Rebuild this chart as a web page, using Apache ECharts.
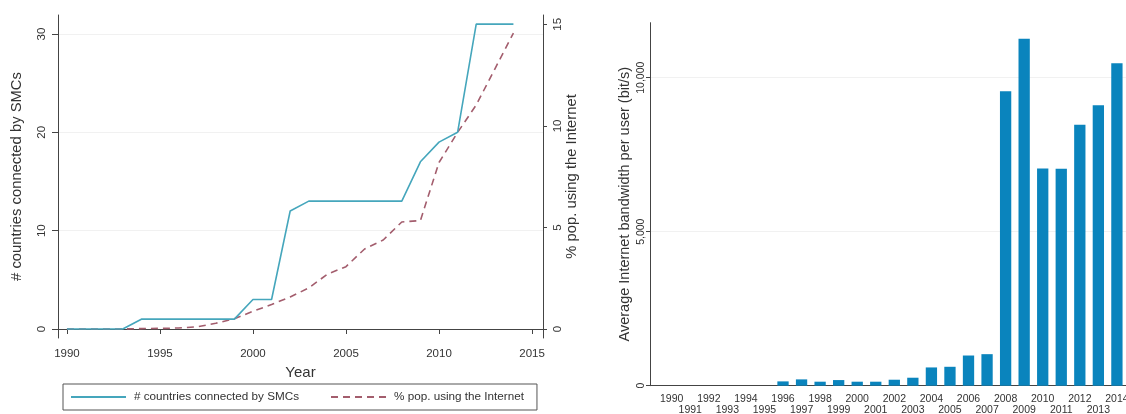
<!DOCTYPE html>
<html>
<head>
<meta charset="utf-8">
<script src="https://cdn.jsdelivr.net/npm/echarts@6/dist/echarts.min.js"></script>
<style>
  html, body { margin: 0; padding: 0; background: #ffffff; }
  #chart { width: 1126px; height: 414px; }
</style>
</head>
<body>
<div id="chart"></div>
<script>
// ---- Data ----
const years = [1990, 1991, 1992, 1993, 1994, 1995, 1996, 1997, 1998, 1999, 2000, 2001, 2002,
               2003, 2004, 2005, 2006, 2007, 2008, 2009, 2010, 2011, 2012, 2013, 2014];
const smcCountries = [0, 0, 0, 0, 1, 1, 1, 1, 1, 1, 3, 3, 12, 13, 13, 13, 13, 13, 13, 17, 19, 20, 31, 31, 31];
const popInternet = [0, 0, 0, 0, 0.02, 0.03, 0.05, 0.11, 0.28, 0.5, 0.87, 1.21, 1.58, 2.02, 2.7,
                     3.07, 3.94, 4.38, 5.27, 5.34, 8.2, 9.68, 11.03, 12.8, 14.57];
const bandwidth = [0, 0, 0, 0, 0, 0, 140, 205, 130, 183, 130, 130, 194, 259, 593, 614, 980, 1024,
                   9560, 11262, 7050, 7040, 8469, 9107, 10466];
const leftXTicks = [1990, 1995, 2000, 2005, 2010, 2015];
const leftYTicks = [0, 10, 20, 30];
const rightYTicks = [0, 5, 10, 15];
const bwYTicks = [0, 5000, 10000];
const bwLabelsRow1 = years.filter(y => y % 2 === 0);
const bwLabelsRow2 = years.filter(y => y % 2 === 1);

const seriesNames = ['# countries connected by SMCs', '% pop. using the Internet'];
const titles = {
  year: 'Year',
  smc: '# countries connected by SMCs',
  pop: '% pop. using the Internet',
  bw: 'Average Internet bandwidth per user (bit/s)'
};

// ---- Styling ----
const FONT = '"Liberation Sans", Arial, sans-serif';
const TXT = '#333333';
const AX = '#444444';
const GRIDC = '#f1f1f1';
const BLUE = '#45a6bc';
const RED = '#a35d6d';
const BAR = '#0a84bd';

const pair = (xs, ys) => xs.map((x, i) => [x, ys[i]]);

const chart = echarts.init(document.getElementById('chart'), null, { renderer: 'canvas' });

const axisLineStyle = { show: true, lineStyle: { color: AX, width: 1 } };
const BW_X_MIN = 1988.83, BW_X_MAX = 2014.49;

chart.setOption({
  animation: false,
  backgroundColor: '#ffffff',
  textStyle: { fontFamily: FONT, color: TXT },
  grid: [
    { left: 58, right: 583, top: 15, bottom: 76, containLabel: false, outerBoundsMode: 'none' },
    { left: 650, right: 0, top: 22.7, bottom: 28.3, containLabel: false, outerBoundsMode: 'none' }
  ],
  legend: {
    data: seriesNames,
    left: 63, top: 384,
    orient: 'horizontal',
    itemWidth: 55, itemHeight: 14, itemGap: 31,
    padding: [7, 13, 7, 7],
    borderColor: '#555555', borderWidth: 1,
    itemStyle: { opacity: 0 },
    textStyle: { fontFamily: FONT, fontSize: 11.7, color: TXT, padding: [0, 0, 0, 3] }
  },
  xAxis: [
    {
      type: 'value', gridIndex: 0, min: 1989.52, max: 2015.59,
      name: titles.year, nameLocation: 'middle', nameGap: 21,
      nameTextStyle: { fontFamily: FONT, fontSize: 15, color: TXT },
      axisLine: axisLineStyle,
      axisTick: { show: true, length: 5, lineStyle: { color: AX }, customValues: leftXTicks },
      axisLabel: { customValues: leftXTicks, fontSize: 11.5, color: TXT, margin: 10, formatter: v => String(v) },
      splitLine: { show: false }
    },
    {
      type: 'value', gridIndex: 1, min: BW_X_MIN, max: BW_X_MAX,
      axisLine: axisLineStyle,
      axisTick: { show: false },
      axisLabel: {
        customValues: bwLabelsRow1, fontSize: 10.5, color: TXT, margin: 8,
        showMinLabel: true, showMaxLabel: true, hideOverlap: false,
        formatter: v => String(v)
      },
      splitLine: { show: false }
    },
    {
      type: 'value', gridIndex: 1, min: BW_X_MIN, max: BW_X_MAX, position: 'bottom',
      axisLine: { show: false },
      axisTick: { show: false },
      axisLabel: {
        customValues: bwLabelsRow2, fontSize: 10.5, color: TXT, margin: 19,
        showMinLabel: true, showMaxLabel: true, hideOverlap: false,
        formatter: v => String(v)
      },
      splitLine: { show: false }
    }
  ],
  yAxis: [
    {
      type: 'value', gridIndex: 0, position: 'left', min: -0.915, max: 31.93, interval: 10,
      name: titles.smc, nameLocation: 'middle', nameGap: 33.5, nameRotate: 90,
      nameTextStyle: { fontFamily: FONT, fontSize: 14.8, color: TXT },
      axisLine: axisLineStyle,
      axisTick: { show: true, length: 6, lineStyle: { color: AX }, customValues: leftYTicks },
      axisLabel: { customValues: leftYTicks, rotate: 90, fontSize: 11.5, color: TXT, margin: 10 },
      splitLine: { show: true, lineStyle: { color: GRIDC, width: 1 } }
    },
    {
      type: 'value', gridIndex: 0, position: 'right', min: -0.443, max: 15.46, interval: 5,
      name: titles.pop, nameLocation: 'middle', nameGap: 19, nameRotate: 90,
      nameTextStyle: { fontFamily: FONT, fontSize: 14.8, color: TXT },
      axisLine: axisLineStyle,
      axisTick: { show: true, length: 4, lineStyle: { color: AX }, customValues: rightYTicks },
      axisLabel: { customValues: rightYTicks, rotate: 90, fontSize: 11.5, color: TXT, margin: 9 },
      splitLine: { show: false }
    },
    {
      type: 'value', gridIndex: 1, position: 'left', min: 0, max: 11786, interval: 5000,
      name: titles.bw, nameLocation: 'middle', nameGap: 18, nameRotate: 90,
      nameTextStyle: { fontFamily: FONT, fontSize: 14.5, color: TXT },
      axisLine: axisLineStyle,
      axisTick: { show: true, length: 4, lineStyle: { color: AX }, customValues: bwYTicks },
      axisLabel: {
        customValues: bwYTicks, rotate: 90, fontSize: 10.5, color: TXT, margin: 3,
        formatter: v => v.toLocaleString('en-US')
      },
      splitLine: { show: true, lineStyle: { color: GRIDC, width: 1 } }
    }
  ],
  series: [
    {
      name: seriesNames[0], type: 'line', xAxisIndex: 0, yAxisIndex: 0,
      data: pair(years, smcCountries),
      symbol: 'none', showSymbol: false,
      lineStyle: { color: BLUE, width: 1.6 },
      itemStyle: { color: BLUE },
      z: 3
    },
    {
      name: seriesNames[1], type: 'line', xAxisIndex: 0, yAxisIndex: 1,
      data: pair(years, popInternet),
      symbol: 'none', showSymbol: false,
      lineStyle: { color: RED, width: 1.6, type: [7, 5] },
      itemStyle: { color: RED },
      z: 2
    },
    {
      name: 'bandwidth', type: 'bar', xAxisIndex: 1, yAxisIndex: 2,
      data: pair(years, bandwidth),
      barWidth: 11.3,
      itemStyle: { color: BAR }
    }
  ]
});
</script>
</body>
</html>
